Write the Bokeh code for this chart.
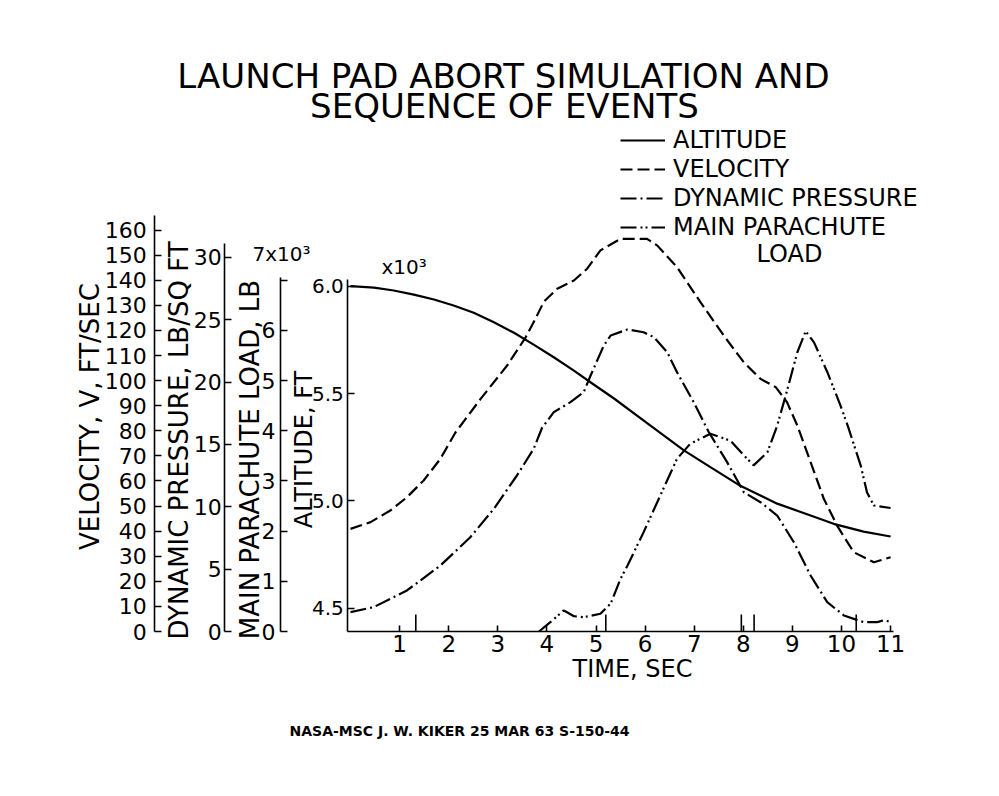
import math
from bokeh.plotting import figure
from bokeh.models import (Range1d, LinearAxis, FixedTicker, Legend, LegendItem,
                          Label, PrintfTickFormatter)
from bokeh.embed import file_html
from bokeh.resources import INLINE

# ---------------- data ----------------
alt_time = [0.00, 0.48, 0.88, 1.29, 1.70, 2.10, 2.51, 2.92, 3.33, 3.73, 4.14, 4.55,
            4.96, 5.36, 6.11, 6.79, 7.33, 7.94, 8.69, 9.37, 9.84, 10.45, 11.0]
altitude = [6.000, 5.993, 5.980, 5.961, 5.938, 5.910, 5.876, 5.832, 5.783, 5.728,
            5.669, 5.607, 5.541, 5.478, 5.351, 5.235, 5.157, 5.070, 4.987, 4.932,
            4.893, 4.857, 4.834]  # x10^3 ft

vel_time = [0.00, 0.41, 0.81, 1.15, 1.49, 1.83, 2.14, 2.65, 3.19, 3.56, 3.75, 3.94,
            4.21, 4.55, 4.82, 5.09, 5.50, 6.04, 6.25, 6.65, 7.13, 7.60, 8.01, 8.35,
            8.66, 8.89, 9.10, 9.37, 9.64, 9.91, 10.25, 10.66, 11.0]
velocity = [40.9, 43.6, 48.2, 53.5, 60.2, 68.8, 79.4, 92.7, 106.0, 117.0, 124.0, 131.5,
            136.6, 139.9, 144.6, 151.9, 156.5, 156.5, 153.8, 145.2, 131.2, 118.0, 107.3,
            100.7, 97.4, 91.4, 82.1, 67.5, 52.9, 42.2, 31.6, 27.6, 29.6]  # ft/sec

dp_time = [0.00, 0.47, 1.15, 1.83, 2.44, 2.92, 3.39, 3.73, 3.90, 4.14, 4.48, 4.75,
           4.89, 5.16, 5.30, 5.64, 5.97, 6.18, 6.45, 6.65, 6.99, 7.29, 7.67, 8.01,
           8.35, 8.69, 9.03, 9.37, 9.71, 10.05, 10.45, 10.73, 10.88, 11.0]
dyn_pressure = [1.55, 1.95, 3.29, 5.29, 7.56, 9.84, 12.51, 14.65, 16.32, 17.59, 18.39,
                19.19, 20.53, 22.94, 23.74, 24.22, 24.00, 23.60, 22.40, 20.79, 18.39,
                16.04, 13.58, 11.17, 10.37, 9.30, 7.16, 4.49, 2.35, 1.28, 0.75, 0.75,
                0.92, 0.75]  # lb/sq ft

load_time = [3.84, 4.07, 4.34, 4.41, 4.55, 4.75, 5.09, 5.30, 5.50, 5.64, 5.97, 6.31,
             6.65, 6.92, 7.33, 7.74, 8.01, 8.21, 8.49, 8.69, 8.90, 9.10, 9.27, 9.44,
             9.71, 9.98, 10.14, 10.39, 10.52, 10.66, 11.0]
chute_load = [0.00, 0.185, 0.418, 0.384, 0.305, 0.285, 0.353, 0.558, 1.05, 1.31, 1.98,
              2.71, 3.44, 3.74, 3.94, 3.80, 3.51, 3.31, 3.57, 4.10, 4.83, 5.56, 5.98,
              5.76, 5.17, 4.50, 4.06, 3.31, 2.77, 2.51, 2.46]  # x10^3 lb

event_times = [1.33, 5.20, 7.96, 8.22, 10.30]

time_ticks = [1, 2, 3, 4, 5, 6, 7, 8, 9, 10, 11]
alt_ticks = [4.5, 5.0, 5.5, 6.0]
vel_ticks = list(range(0, 161, 10))
dp_ticks = [0, 5, 10, 15, 20, 25, 30]
load_ticks = [0, 1, 2, 3, 4, 5, 6, 7]

# ---------------- layout geometry (screen pixels) ----------------
W, H = 999, 796
BASE_Y = 631                            # time axis line
T0_PX, PX_PER_S = 350.0, 49.1           # screen x of t=0, px per second
ALT6_PX, PX_PER_KFT = 285.7, 214.67     # screen y of 6.0 x10^3 ft, px per 1000 ft
PX_PER_FPS, PX_PER_PSF, PX_PER_KLB = 2.509, 12.47, 50.2
X_ALT, X_LOAD, X_DP, X_VEL = 347.3, 280.0, 224.3, 154.3   # axis lines


def tx(px):
    return (px - T0_PX) / PX_PER_S


def ay(py):
    return 6.0 - (py - ALT6_PX) / PX_PER_KFT


FONT = "DejaVu Sans"

p = figure(width=W, height=H, output_backend="svg", toolbar_location=None,
           x_range=Range1d(tx(0), tx(W)), y_range=Range1d(ay(H), ay(0)),
           min_border=0, min_border_left=0, min_border_right=0,
           min_border_top=0, min_border_bottom=0)
p.outline_line_color = None
p.xgrid.visible = False
p.ygrid.visible = False
p.background_fill_color = "white"
p.border_fill_color = "white"

p.extra_y_ranges = {
    "load": Range1d((BASE_Y - H) / PX_PER_KLB, BASE_Y / PX_PER_KLB),
    "dp": Range1d((BASE_Y - H) / PX_PER_PSF, BASE_Y / PX_PER_PSF),
    "vel": Range1d((BASE_Y - H) / PX_PER_FPS, BASE_Y / PX_PER_FPS),
}


def style_axis(ax, label_size="22px"):
    ax.axis_line_width = 1.6
    ax.axis_line_color = "black"
    ax.major_tick_line_width = 1.6
    ax.major_tick_line_color = "black"
    ax.major_tick_in = 7
    ax.major_tick_out = 0
    ax.minor_tick_line_color = None
    ax.major_label_text_font = FONT
    ax.major_label_text_font_size = label_size
    ax.major_label_text_color = "black"


# altitude (default y axis)
ya = p.yaxis[0]
style_axis(ya, "20px")
ya.fixed_location = tx(X_ALT)
ya.ticker = FixedTicker(ticks=alt_ticks)
ya.formatter = PrintfTickFormatter(format="%.1f")
ya.bounds = (ay(BASE_Y), 6.03)
ya.major_label_standoff = 4

load_ax = LinearAxis(y_range_name="load", fixed_location=tx(X_LOAD))
style_axis(load_ax)
load_ax.ticker = FixedTicker(ticks=load_ticks)
load_ax.major_label_overrides = {7: ""}
load_ax.bounds = (0, 7.06)
load_ax.major_label_standoff = 5
p.add_layout(load_ax, "left")

dp_ax = LinearAxis(y_range_name="dp", fixed_location=tx(X_DP))
style_axis(dp_ax)
dp_ax.ticker = FixedTicker(ticks=dp_ticks)
dp_ax.bounds = (0, 31.1)
dp_ax.major_label_standoff = 3
p.add_layout(dp_ax, "left")

vel_ax = LinearAxis(y_range_name="vel", fixed_location=tx(X_VEL))
style_axis(vel_ax)
vel_ax.ticker = FixedTicker(ticks=vel_ticks)
vel_ax.bounds = (0, 165.8)
vel_ax.major_label_standoff = 8
p.add_layout(vel_ax, "left")

xa = p.xaxis[0]
style_axis(xa, "23px")
xa.fixed_location = ay(BASE_Y)
xa.ticker = FixedTicker(ticks=time_ticks)
xa.bounds = (tx(X_ALT), 11.06)
xa.major_tick_in = 6
xa.major_label_standoff = 3

# ---------------- curves ----------------
LW = 2.2
r_alt = p.line(alt_time, altitude, line_color="black", line_width=LW)
r_vel = p.line(vel_time, velocity, y_range_name="vel", line_color="black",
               line_width=LW, line_dash="12 5")
r_dp = p.line(dp_time, dyn_pressure, y_range_name="dp", line_color="black",
              line_width=LW, line_dash="16 4 2 4")
r_load = p.line(load_time, chute_load, y_range_name="load", line_color="black",
                line_width=LW, line_dash="16 4 2 3 2 4")

# event markers (sequence of events) on the time axis
ev_len = 17 / PX_PER_KFT
p.segment(x0=event_times, y0=[ay(BASE_Y)] * len(event_times),
          x1=event_times, y1=[ay(BASE_Y) + ev_len] * len(event_times),
          line_color="black", line_width=1.6)

# ---------------- legend ----------------
legend = Legend(items=[
    LegendItem(label="ALTITUDE", renderers=[r_alt]),
    LegendItem(label="VELOCITY", renderers=[r_vel]),
    LegendItem(label="DYNAMIC PRESSURE", renderers=[r_dp]),
    LegendItem(label="MAIN PARACHUTE", renderers=[r_load]),
], location=(620, H - 241), orientation="vertical",
    glyph_width=45, glyph_height=28, label_height=28, label_standoff=8, spacing=1,
    padding=0, margin=0, border_line_color=None, background_fill_alpha=0,
    label_text_font=FONT, label_text_font_size="24px", label_text_color="black")
p.add_layout(legend)


def add_text(text, px, py, size, align="center", style="normal", angle=0.0):
    p.add_layout(Label(x=tx(px), y=ay(py), text=text, text_font=FONT,
                       text_font_size=size, text_align=align, text_baseline="middle",
                       text_font_style=style, text_color="black", angle=angle))


UP = math.pi / 2
add_text("LAUNCH PAD ABORT SIMULATION AND", 503, 75, "34px")
add_text("SEQUENCE OF EVENTS", 504, 105, "34px")
add_text("LOAD", 789, 253, "24px")
add_text("x10\u00b3", 381, 266, "20px", align="left")
add_text("7x10\u00b3", 252, 253, "20px", align="left")
add_text("VELOCITY, V, FT/SEC", 89, 416, "26px", angle=UP)
add_text("DYNAMIC PRESSURE, LB/SQ FT", 178, 440, "26px", angle=UP)
add_text("MAIN PARACHUTE LOAD, LB", 249, 459, "26px", angle=UP)
add_text("ALTITUDE, FT", 303, 449, "24px", angle=UP)
add_text("TIME, SEC", 632, 668, "24px")
add_text("NASA-MSC J. W. KIKER 25 MAR 63 S-150-44", 459, 730, "14px", style="bold")

open("out.html", "w").write(file_html(p, INLINE))
